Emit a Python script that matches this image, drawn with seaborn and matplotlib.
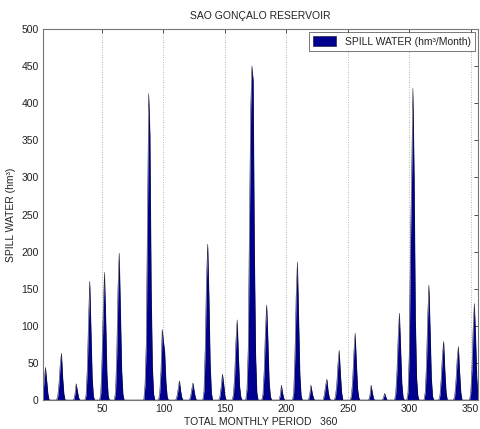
import numpy as np
import pandas as pd
import matplotlib
matplotlib.use("Agg")
import matplotlib.pyplot as plt
from matplotlib.patches import Patch
import seaborn as sns

# Monthly spill (hm³) for the São Gonçalo reservoir simulation; months not listed spill nothing.
n_months = 360
spill_month = [
    2, 3, 4, 5, 6,
    14, 15, 16, 17, 18, 19,
    28, 29, 30, 31,
    37, 38, 39, 40, 41, 42, 43,
    49, 50, 51, 52, 53, 54, 55,
    61, 62, 63, 64, 65, 66, 67,
    85, 86, 87, 88, 89, 90, 91, 92,
    97, 98, 99, 100, 101, 102, 103,
    111, 112, 113, 114, 115,
    122, 123, 124, 125, 126,
    133, 134, 135, 136, 137, 138, 139,
    146, 147, 148, 149, 150,
    157, 158, 159, 160, 161, 162, 163,
    168, 169, 170, 171, 172, 173, 174, 175, 176,
    181, 182, 183, 184, 185, 186, 187,
    195, 196, 197, 198,
    206, 207, 208, 209, 210, 211, 212,
    219, 220, 221, 222,
    231, 232, 233, 234, 235,
    240, 241, 242, 243, 244, 245,
    253, 254, 255, 256, 257, 258, 259,
    268, 269, 270, 271,
    279, 280, 281,
    289, 290, 291, 292, 293, 294, 295,
    299, 300, 301, 302, 303, 304, 305, 306, 307,
    313, 314, 315, 316, 317, 318, 319,
    325, 326, 327, 328, 329, 330,
    337, 338, 339, 340, 341, 342,
    350, 351, 352, 353, 354, 355, 356,
]
spill_value = [
    10, 28, 44, 26, 8,
    5, 22, 48, 63, 30, 8,
    8, 22, 12, 3,
    6, 40, 105, 160, 95, 30, 5,
    8, 55, 120, 172, 110, 35, 6,
    10, 60, 150, 198, 120, 40, 8,
    20, 75, 250, 413, 357, 150, 45, 8,
    10, 40, 95, 79, 65, 25, 5,
    5, 15, 26, 12, 3,
    4, 14, 23, 12, 3,
    12, 70, 160, 210, 140, 50, 10,
    5, 18, 35, 22, 6,
    8, 35, 80, 108, 60, 18, 4,
    15, 70, 240, 393, 450, 431, 200, 60, 10,
    8, 40, 95, 128, 80, 25, 5,
    6, 20, 9, 2,
    10, 60, 140, 186, 110, 35, 6,
    7, 20, 10, 3,
    8, 20, 28, 12, 3,
    5, 20, 48, 67, 35, 10,
    6, 28, 65, 90, 50, 15, 3,
    6, 20, 10, 2,
    3, 9, 4,
    8, 38, 85, 117, 70, 22, 4,
    10, 60, 210, 305, 420, 300, 110, 30, 6,
    10, 45, 110, 155, 95, 30, 5,
    6, 28, 60, 79, 40, 10,
    5, 25, 55, 72, 38, 10,
    8, 40, 95, 130, 85, 30, 6,
]
x_ticks = [50, 100, 150, 200, 250, 300, 350]
y_ticks = [0, 50, 100, 150, 200, 250, 300, 350, 400, 450, 500]

month = np.arange(1, n_months + 1)
spill = np.zeros(n_months)
spill[np.array(spill_month) - 1] = spill_value
df = pd.DataFrame({"month": month, "spill": spill})

sns.set_theme(style="white")
plt.rcParams["font.family"] = ["Liberation Sans", "DejaVu Sans"]

fig = plt.figure(figsize=(4.81, 4.29), dpi=100)
ax = fig.add_axes([0.0894, 0.0676, 0.9044, 0.8648])

navy = "#00008F"
# filled monthly spill series with a thin dark outline
ax.fill_between(df["month"], 0, df["spill"], color=navy, linewidth=0, zorder=2)
sns.lineplot(data=df, x="month", y="spill", color="#111122", linewidth=0.35,
             ax=ax, zorder=3)

ax.set_xlim(2, 356)
ax.set_ylim(0, 500)
ax.set_xticks(x_ticks)
ax.set_yticks(y_ticks)
ax.tick_params(axis="both", direction="in", length=3, width=0.6,
               labelsize=7.5, colors="#333333", top=True, right=True,
               pad=3, labelcolor="#222222")
ax.xaxis.grid(True, linestyle=(0, (1, 2)), color="#9a9a9a", linewidth=0.6)
ax.yaxis.grid(False)
ax.set_axisbelow(True)
for s in ax.spines.values():
    s.set_color("#777777")
    s.set_linewidth(0.8)
    s.set_zorder(4)

ax.set_title("SAO GONÇALO RESERVOIR", fontsize=7.5, color="#222222", pad=7)
ax.set_xlabel("TOTAL MONTHLY PERIOD   360", fontsize=7.5, color="#222222", labelpad=2)
ax.set_ylabel("SPILL WATER (hm³)", fontsize=7.5, color="#222222", labelpad=4)

handle = Patch(facecolor=navy, edgecolor="#111122", linewidth=0.4)
leg = ax.legend([handle], ["SPILL WATER (hm³/Month)"], loc="upper right",
                fontsize=7.5, frameon=True, fancybox=False, edgecolor="#555555",
                borderaxespad=0.3, handlelength=2.2, handleheight=1.0, borderpad=0.4)
leg.get_frame().set_linewidth(0.7)
leg.set_zorder(5)
for t in leg.get_texts():
    t.set_color("#222222")

fig.savefig("out.png", dpi=100, facecolor="white")
